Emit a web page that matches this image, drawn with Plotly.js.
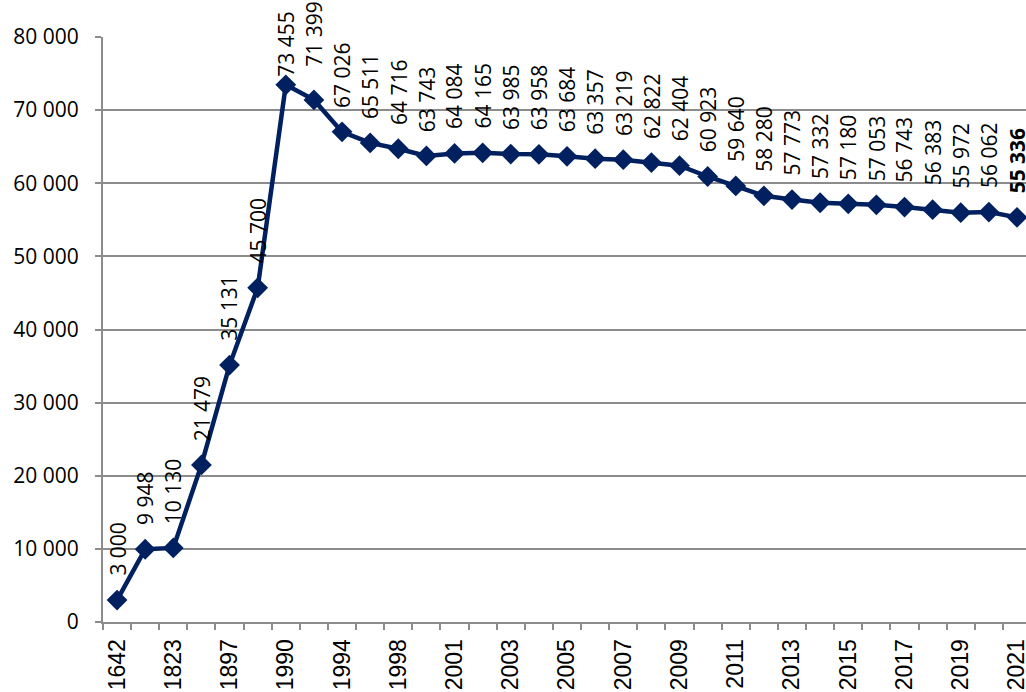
<!DOCTYPE html>
<html>
<head>
<meta charset="utf-8">
<script src="https://cdn.plot.ly/plotly-3.0.1.min.js"></script>
<style>html,body{margin:0;padding:0;background:#fff;}#chart{width:1026px;height:692px;}</style>
</head>
<body>
<div id="chart"></div>
<script>
// Categories (years); every other one is labelled on the axis
var years = ["1642","1788","1823","1856","1897","1959","1990","1992","1994","1996","1998","2000",
  "2001","2002","2003","2004","2005","2006","2007","2008","2009","2010","2011","2012",
  "2013","2014","2015","2016","2017","2018","2019","2020","2021"];
var tickLabels = ["1642","","1823","","1897","","1990","","1994","","1998","",
  "2001","","2003","","2005","","2007","","2009","","2011","",
  "2013","","2015","","2017","","2019","","2021"];
var population = [3000, 9948, 10130, 21479, 35131, 45700, 73455, 71399, 67026, 65511, 64716, 63743,
  64084, 64165, 63985, 63958, 63684, 63357, 63219, 62822, 62404, 60923, 59640, 58280,
  57773, 57332, 57180, 57053, 56743, 56383, 55972, 56062, 55336];
var yTicks = [0, 10000, 20000, 30000, 40000, 50000, 60000, 70000, 80000];

// label offset style (px above marker) — special cases near the top
var labelShiftDefault = 22;
var labelShiftSpecial = {6: 6, 7: 31};

function fmt(v){ return String(v).replace(/\B(?=(\d{3})+(?!\d))/g, " "); }

var annotations = years.map(function(y, i){
  var last = i === years.length - 1;
  return {
    x: i, y: population[i], xref: 'x', yref: 'y',
    text: last ? '<b>' + fmt(population[i]) + '</b>' : fmt(population[i]),
    showarrow: false, textangle: -90,
    xanchor: 'center', yanchor: 'bottom',
    yshift: (labelShiftSpecial[i] !== undefined ? labelShiftSpecial[i] : labelShiftDefault),
    font: {family: 'Open Sans, sans-serif', size: 21, color: '#000'}
  };
});

var trace = {
  type: 'scatter', mode: 'lines+markers',
  x: years, y: population,
  line: {color: '#002060', width: 4.5},
  marker: {symbol: 'diamond', size: 16, color: '#002060'},
  cliponaxis: false,
  hoverinfo: 'x+y'
};

var layout = {
  width: 1026, height: 692,
  margin: {l: 103, r: 0, t: 37, b: 70},
  paper_bgcolor: '#fff', plot_bgcolor: '#fff',
  separators: '. ',
  showlegend: false,
  xaxis: {
    type: 'category',
    range: [-0.5, 32.32],
    tickmode: 'array', tickvals: years, ticktext: tickLabels,
    tickangle: -90,
    tickson: 'boundaries',
    ticks: 'outside', ticklen: 6, tickwidth: 2, tickcolor: '#8c8c8c',
    showline: true, linecolor: '#8c8c8c', linewidth: 2,
    showgrid: false, zeroline: false,
    tickfont: {family: 'Liberation Sans, Arial, sans-serif', size: 23, color: '#000'},
    ticklabelstandoff: 6
  },
  yaxis: {
    range: [0, 80000],
    tickmode: 'array', tickvals: yTicks,
    tickformat: ',d',
    ticks: 'outside', ticklen: 6, tickwidth: 2, tickcolor: '#8c8c8c',
    showline: true, linecolor: '#8c8c8c', linewidth: 2,
    showgrid: true, gridcolor: '#8c8c8c', gridwidth: 2,
    zeroline: false,
    tickfont: {family: 'Open Sans, sans-serif', size: 21, color: '#000'},
    ticklabelstandoff: 12
  },
  annotations: annotations
};

Plotly.newPlot('chart', [trace], layout, {displayModeBar: false, staticPlot: true});
</script>
</body>
</html>
